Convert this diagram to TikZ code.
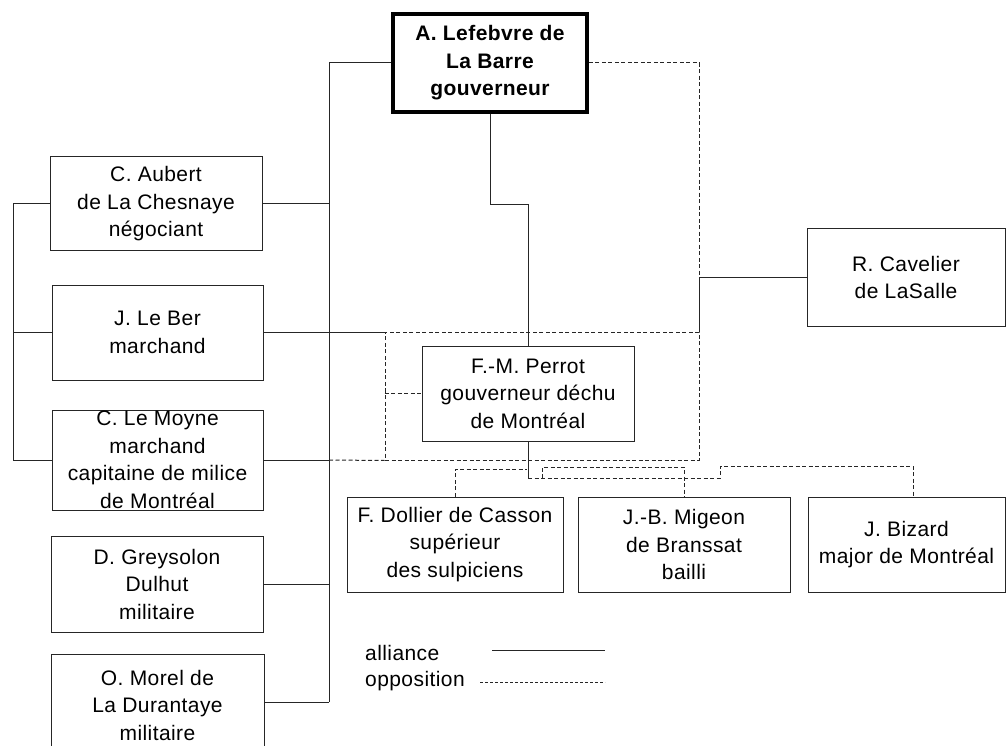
\documentclass[tikz,border=0pt]{standalone}
\usepackage{fontspec}
\setmainfont{Liberation Sans}[LetterSpace=2]
\usetikzlibrary{calc}

\tikzset{
  x=1pt, y=-1pt,
  ally/.style={line width=1pt, draw=black!85},
  oppo/.style={line width=1pt, draw=black!85, dash pattern=on 4pt off 2.5pt},
  box/.style={draw=black!85, line width=1pt, inner sep=0pt},
  chief/.style={draw=black, line width=3.5pt, inner sep=0pt},
  txt/.style={align=center, inner sep=0pt, font=\fontsize{21}{27.5}\selectfont},
  chieftxt/.style={align=center, inner sep=0pt, font=\fontsize{21}{27.5}\selectfont\bfseries},
  legtxt/.style={anchor=west, inner sep=0pt, font=\fontsize{21}{27.5}\selectfont},
}

% #1 frame style, #2 text style, #3 name, #4-#7 corners (x1,y1,x2,y2), #8 text
\newcommand\persbox[8]{%
  \node[#1, minimum width=#6pt-#4pt, minimum height=#7pt-#5pt]
    (#3) at ({(#4+#6)/2},{(#5+#7)/2}) {};
  \node[#2] (#3-t) at (#3.center) {#8};
}

\begin{document}
\begin{tikzpicture}
\useasboundingbox (0,0) rectangle (1007,746);
\clip (0,0) rectangle (1007,746);

% people
\persbox{chief}{chieftxt}{labarre}{393}{14}{587}{112}{A. Lefebvre de\\La Barre\\gouverneur}
\persbox{box}{txt}{aubert}{50}{157}{262}{251}{C. Aubert\\de La Chesnaye\\négociant}
\persbox{box}{txt}{leber}{52}{285}{263}{380}{J. Le Ber\\marchand}
\persbox{box}{txt}{lemoyne}{52}{410}{263}{510}{C. Le Moyne\\marchand\\capitaine de milice\\de Montréal}
\persbox{box}{txt}{greysolon}{51}{536}{263}{632}{D. Greysolon\\Dulhut\\militaire}
\persbox{box}{txt}{morel}{51}{654}{264}{756}{O. Morel de\\La Durantaye\\militaire}
\persbox{box}{txt}{cavelier}{807}{229}{1005}{326}{R. Cavelier\\de LaSalle}
\persbox{box}{txt}{perrot}{422}{346}{634}{441}{F.-M. Perrot\\gouverneur déchu\\de Montréal}
\persbox{box}{txt}{dollier}{347}{497}{563}{592}{F. Dollier de Casson\\supérieur\\des sulpiciens}
\persbox{box}{txt}{migeon}{578}{497}{790}{592}{J.-B. Migeon\\de Branssat\\bailli}
\persbox{box}{txt}{bizard}{808}{497}{1005}{592}{J. Bizard\\major de Montréal}

% Perrot's circle
\node[oppo, draw, inner sep=0pt, minimum width=314pt, minimum height=128pt] (grp) at (542,396) {};

% junction points
\coordinate (trunkEnd) at (329,702);
\coordinate (brTop) at (13,204);
\coordinate (bend) at (491,205);
\coordinate (pJ) at (528,478);
\coordinate (bzA) at (720,466);
\coordinate (bzB) at (913,466);
\coordinate (dlJ) at (527,469);
\coordinate (mgA) at (542,478);
\coordinate (mgB) at (542,467);

% alliances
\draw[ally] (labarre.west) -| (trunkEnd);
\draw[ally] (aubert.east) -- (aubert.east -| trunkEnd);
\draw[ally] (leber.east) -- (leber.east -| grp.west);
\draw[ally] (lemoyne.east) -- (lemoyne.east -| trunkEnd);
\draw[ally] (greysolon.east) -- (greysolon.east -| trunkEnd);
\draw[ally] (morel.east |- trunkEnd) -- (trunkEnd);
\draw[ally] (aubert.west) -- (aubert.west -| brTop) |- (lemoyne.west);
\draw[ally] (leber.west) -- (leber.west -| brTop);
\draw[ally] (labarre.south) -- (labarre.south |- bend) -| (perrot.north);
\draw[ally] (cavelier.west) -| (grp.north east);
\draw[ally] (perrot.south) -- (perrot.south |- pJ);

% oppositions
\draw[oppo] (labarre.east) -| (cavelier.west -| grp.east);
\draw[oppo] (lemoyne.east -| trunkEnd) -- (grp.south west);
\draw[oppo] (perrot.west -| grp.west) -- (perrot.west);
\draw[oppo] (perrot.south |- pJ) -| (bzA) -- (bzB) -- (bzB |- bizard.north);
\draw[oppo] (dollier.north) |- (dlJ);
\draw[oppo] (mgA) -- (mgB) -| (migeon.north);

% legend
\node[legtxt] (legA) at (365,653) {alliance};
\node[legtxt] (legO) at (365,681) {opposition};
\coordinate (legA1) at (492,650);
\coordinate (legA2) at (605,650);
\coordinate (legO1) at (480,682);
\coordinate (legO2) at (605,682);
\draw[ally] (legA1) -- (legA2);
\draw[oppo, line width=0.8pt, dash pattern=on 3pt off 2pt] (legO1) -- (legO2);
\end{tikzpicture}
\end{document}
